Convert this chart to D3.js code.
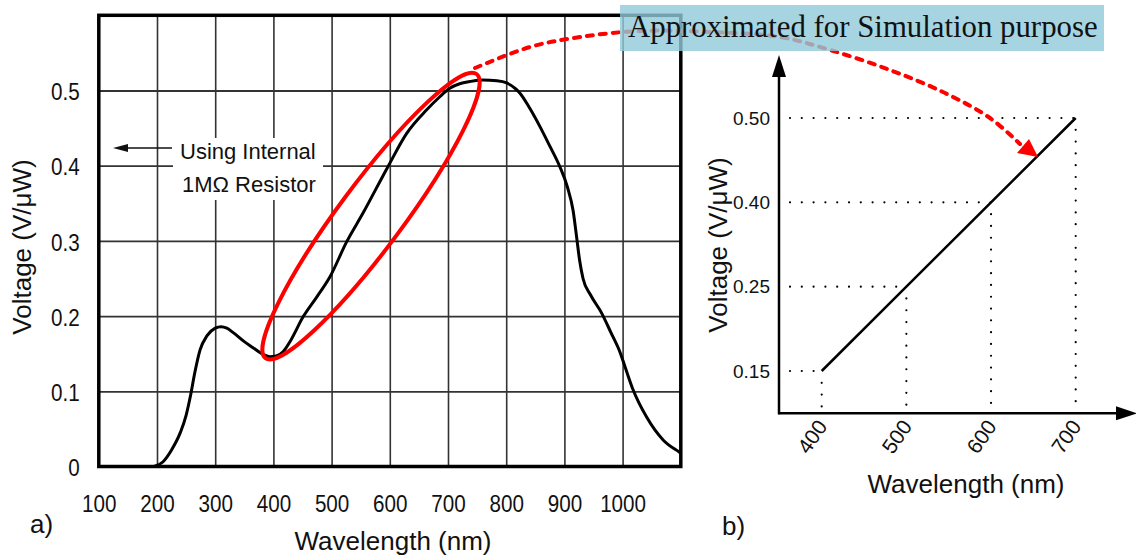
<!DOCTYPE html>
<html lang="en">
<head>
<meta charset="UTF-8" />
<title>Photodiode responsivity</title>
<script src="https://cdn.jsdelivr.net/npm/d3@7/dist/d3.min.js"></script>
<style>
  body { margin: 0; background: #fff; }
  svg { display: block; }
  text { font-family: "Liberation Sans", Arial, sans-serif; fill: #111; }
</style>
</head>
<body>
<svg id="chart" width="1136" height="558"></svg>
<script>
// panel a) measured curve (nm, V/uW) read off the datasheet plot
var waveA = [195, 210, 225, 240, 250, 257, 265, 274, 286, 300, 310, 320, 331, 350, 365, 380, 394, 405, 417, 430,
             451, 475, 497, 526, 554, 597, 629, 663, 685, 703, 720, 738, 760, 784, 801,
             815, 823, 840, 858, 875, 892, 905, 915, 921, 926, 932, 945, 964, 980, 996, 1004, 1018, 1041, 1070, 1096, 1100];
var voltA = [0, 0.006, 0.022, 0.045, 0.068, 0.092, 0.125, 0.155, 0.174, 0.184, 0.186, 0.184, 0.178, 0.166, 0.158, 0.150, 0.146, 0.147, 0.153, 0.168,
             0.199, 0.226, 0.252, 0.299, 0.337, 0.399, 0.443, 0.474, 0.491, 0.503, 0.509, 0.512, 0.514, 0.513, 0.510,
             0.503, 0.497, 0.477, 0.452, 0.426, 0.399, 0.372, 0.340, 0.305, 0.275, 0.250, 0.228, 0.204, 0.178, 0.151, 0.133, 0.102, 0.066, 0.035, 0.020, 0.018];
var tickWaveA = [100, 200, 300, 400, 500, 600, 700, 800, 900, 1000];
var tickVoltA = [0, 0.1, 0.2, 0.3, 0.4, 0.5];

// panel b) straight line approximation
var waveB = [400, 500, 600, 700];
var voltB = [0.15, 0.25, 0.40, 0.50];

var svg = d3.select("#chart");
var red = "#ff0000";
var squeeze = 0.86; // datasheet labels look condensed

// ---------- panel a ----------
var xA = d3.scaleLinear().domain([100, 1100]).range([98.8, 680.8]);
var yA = d3.scaleLinear().domain([0, 0.6]).range([466.5, 15.3]);
var gA = svg.append("g");

// grid
gA.append("g")
  .attr("transform", "translate(0," + yA(0) + ")")
  .call(d3.axisBottom(xA).tickValues(d3.range(200, 1100, 100)).tickSize(yA(0.6) - yA(0)).tickFormat(""))
  .call(function(g) { g.select(".domain").remove(); })
  .selectAll("line").attr("stroke", "#333").attr("stroke-width", 1.6);

gA.append("g")
  .attr("transform", "translate(" + xA(100) + ",0)")
  .call(d3.axisLeft(yA).tickValues([0.1, 0.2, 0.3, 0.4, 0.5]).tickSize(xA(100) - xA(1100)).tickFormat(""))
  .call(function(g) { g.select(".domain").remove(); })
  .selectAll("line").attr("stroke", "#333").attr("stroke-width", 1.8);

// tick labels
var axA = gA.append("g")
  .attr("transform", "translate(0," + yA(0) + ")")
  .call(d3.axisBottom(xA).tickValues(tickWaveA).tickSize(0).tickPadding(28).tickFormat(d3.format("d")))
  .attr("font-size", null).attr("font-family", null);
axA.select(".domain").remove();
axA.selectAll("text").attr("font-size", 24).attr("transform", "scale(" + squeeze + ",1)");

var ayA = gA.append("g")
  .attr("transform", "translate(" + xA(100) + ",0)")
  .call(d3.axisLeft(yA).tickValues(tickVoltA).tickSize(0).tickFormat(function(d) { return d === 0 ? "0" : d3.format(".1f")(d); }))
  .attr("font-size", null).attr("font-family", null);
ayA.select(".domain").remove();
ayA.selectAll("text").attr("font-size", 24).attr("dy", "0.38em")
  .attr("x", -19 / squeeze).attr("transform", "scale(" + squeeze + ",1)");

// note box
gA.append("rect").attr("x", 173).attr("y", 138).attr("width", 150).attr("height", 62).attr("fill", "#fff");
gA.append("line").attr("x1", 126).attr("x2", 172).attr("y1", 148).attr("y2", 148)
  .attr("stroke", "#111").attr("stroke-width", 1.3);
gA.append("path").attr("d", "M113,148 L128,144 L128,152 Z").attr("fill", "#111");
gA.append("text").attr("x", 180).attr("y", 158.5).attr("font-size", 22).text("Using Internal");
gA.append("text").attr("x", 182).attr("y", 191.5).attr("font-size", 22).text("1M\u03a9 Resistor");

// curve
var ptsA = waveA.map(function(w, i) { return [w, voltA[i]]; });
gA.append("path")
  .datum(ptsA)
  .attr("fill", "none").attr("stroke", "#000").attr("stroke-width", 3)
  .attr("d", d3.line().x(function(d) { return xA(d[0]); }).y(function(d) { return yA(d[1]); }).curve(d3.curveMonotoneX));

// frame
gA.append("rect")
  .attr("x", xA(100)).attr("y", yA(0.6))
  .attr("width", xA(1100) - xA(100)).attr("height", yA(0) - yA(0.6))
  .attr("fill", "none").attr("stroke", "#000").attr("stroke-width", 3.5);

gA.append("text").attr("x", 393).attr("y", 550).attr("text-anchor", "middle").attr("font-size", 26).text("Wavelength (nm)");
gA.append("text").attr("transform", "translate(31,247) rotate(-90)").attr("text-anchor", "middle").attr("font-size", 26).text("Voltage (V/\u03bcW)");
gA.append("text").attr("x", 30).attr("y", 533).attr("font-size", 26).text("a)");

// ---------- panel b ----------
var xB = d3.scaleLinear().domain([400, 700]).range([821.7, 1075.7]);
var yB = d3.scalePoint().domain(voltB).range([371, 118]);
var ox = 779, oy = 413.3;
var gB = svg.append("g");

// dotted guides
waveB.forEach(function(w, i) {
  var v = voltB[i];
  gB.append("line").attr("x1", 790).attr("x2", xB(w)).attr("y1", yB(v)).attr("y2", yB(v))
    .attr("stroke", "#000").attr("stroke-width", 2.2).attr("stroke-linecap", "round").attr("stroke-dasharray", "0,11.8");
  gB.append("line").attr("x1", xB(w)).attr("x2", xB(w)).attr("y1", yB(v) + 11.8).attr("y2", oy - 4)
    .attr("stroke", "#000").attr("stroke-width", 2.2).attr("stroke-linecap", "round").attr("stroke-dasharray", "0,11.8");
});

// axes with arrows
gB.append("line").attr("x1", ox).attr("x2", ox).attr("y1", oy + 1).attr("y2", 72).attr("stroke", "#000").attr("stroke-width", 2.5);
gB.append("path").attr("d", "M" + ox + ",55 L" + (ox - 7) + ",77 L" + (ox + 7) + ",77 Z").attr("fill", "#000");
gB.append("line").attr("x1", ox - 1).attr("x2", 1120).attr("y1", oy).attr("y2", oy).attr("stroke", "#000").attr("stroke-width", 2.5);
gB.append("path").attr("d", "M1137," + oy + " L1116," + (oy - 7) + " L1116," + (oy + 7) + " Z").attr("fill", "#000");

var ayB = gB.append("g")
  .attr("transform", "translate(" + ox + ",0)")
  .call(d3.axisLeft(yB).tickSize(0).tickPadding(9).tickFormat(d3.format(".2f")))
  .attr("font-size", null).attr("font-family", null);
ayB.select(".domain").remove();
ayB.selectAll("text").attr("font-size", 19);

var axB = gB.append("g")
  .attr("transform", "translate(0," + oy + ")")
  .call(d3.axisBottom(xB).tickValues(waveB).tickSize(0))
  .attr("font-size", null).attr("font-family", null);
axB.select(".domain").remove();
axB.selectAll("text")
  .attr("font-size", 21).attr("y", null).attr("dy", "0.35em")
  .attr("text-anchor", "end")
  .attr("transform", "translate(0,9) rotate(-55)");

// approximation line
var ptsB = waveB.map(function(w, i) { return [w, voltB[i]]; });
gB.append("path")
  .datum(ptsB)
  .attr("fill", "none").attr("stroke", "#000").attr("stroke-width", 2.5)
  .attr("d", d3.line().x(function(d) { return xB(d[0]); }).y(function(d) { return yB(d[1]); }));

gB.append("text").attr("x", 966).attr("y", 493).attr("text-anchor", "middle").attr("font-size", 26).text("Wavelength (nm)");
gB.append("text").attr("transform", "translate(727,245) rotate(-90)").attr("text-anchor", "middle").attr("font-size", 26).text("Voltage (V/\u03bcW)");
gB.append("text").attr("x", 722).attr("y", 535).attr("font-size", 26).text("b)");

// ---------- annotation ----------
var gN = svg.append("g");
gN.append("ellipse")
  .attr("transform", "translate(" + xA(567.7) + "," + yA(0.333) + ") rotate(-53.4)")
  .attr("rx", 177).attr("ry", 32)
  .attr("fill", "none").attr("stroke", red).attr("stroke-width", 4);

var arrowPts = [[475, 68], [530, 47], [580, 37], [640, 31], [710, 32], [780, 37], [830, 50], [890, 70], [945, 93], [990, 118], [1020, 144]];
gN.append("path")
  .attr("d", d3.line().curve(d3.curveCatmullRom)(arrowPts))
  .attr("fill", "none").attr("stroke", red).attr("stroke-width", 4)
  .attr("stroke-linecap", "round").attr("stroke-dasharray", "6,7");
gN.append("path").attr("d", "M1038,157 L1017,153 L1029,139 Z").attr("fill", red);

gN.append("rect").attr("x", 620).attr("y", 5).attr("width", 484).attr("height", 46)
  .attr("fill", "rgb(144,202,217)").attr("fill-opacity", 0.8);
gN.append("text").attr("x", 628).attr("y", 37)
  .style("font-family", "'Liberation Serif', 'Times New Roman', serif").attr("font-size", 30.8).attr("fill", "#000")
  .text("Approximated for Simulation purpose");
</script>
</body>
</html>
